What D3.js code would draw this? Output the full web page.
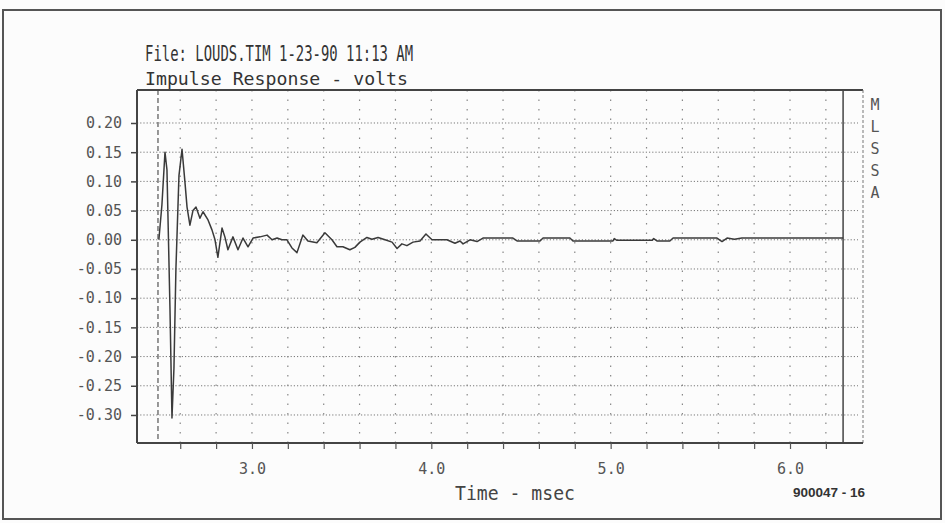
<!DOCTYPE html>
<html>
<head>
<meta charset="utf-8">
<script src="https://cdn.jsdelivr.net/npm/d3@7"></script>
<style>
  body { margin: 0; background: #fcfcfc; }
  svg { display: block; }
  text { font-family: "DejaVu Sans Mono", monospace; }
</style>
</head>
<body>
<div id="chart"></div>
<script>
// impulse response (time in msec, amplitude in volts)
var timeMs = [2.481, 2.498, 2.515, 2.526, 2.543, 2.554, 2.565, 2.576, 2.593, 2.610,
  2.626, 2.638, 2.654, 2.671, 2.688, 2.710, 2.727, 2.755, 2.777, 2.794,
  2.810, 2.833, 2.849, 2.866, 2.894, 2.922, 2.950, 2.978, 3.006, 3.045,
  3.084, 3.112, 3.140, 3.167, 3.195, 3.223, 3.251, 3.284, 3.312, 3.362,
  3.407, 3.446, 3.474, 3.507, 3.546, 3.574, 3.602, 3.641, 3.669, 3.703,
  3.742, 3.781, 3.809, 3.836, 3.864, 3.898, 3.937, 3.970, 4.004, 4.037,
  4.087, 4.132, 4.160, 4.177, 4.216, 4.255, 4.288, 4.455, 4.478, 4.606,
  4.623, 4.773, 4.790, 5.013, 5.020, 5.035, 5.231, 5.240, 5.258, 5.330,
  5.348, 5.593, 5.621, 5.649, 5.690, 5.732, 6.296];
var volts = [0.000, 0.060, 0.150, 0.120, -0.120, -0.305, -0.220, -0.050, 0.110, 0.155,
  0.100, 0.056, 0.025, 0.050, 0.056, 0.037, 0.048, 0.034, 0.017, 0.000,
  -0.030, 0.020, 0.005, -0.017, 0.005, -0.017, 0.003, -0.012, 0.003, 0.005,
  0.008, 0.000, 0.003, 0.000, 0.000, -0.014, -0.022, 0.008, -0.002, -0.005,
  0.012, 0.000, -0.012, -0.012, -0.017, -0.013, -0.004, 0.004, 0.001, 0.004,
  0.000, -0.004, -0.015, -0.007, -0.010, -0.004, -0.002, 0.010, 0.000, 0.000,
  0.000, -0.006, -0.002, -0.007, 0.000, -0.003, 0.003, 0.003, -0.002, -0.002,
  0.003, 0.003, -0.002, -0.002, 0.002, -0.001, -0.001, 0.002, -0.002, -0.002,
  0.003, 0.003, -0.003, 0.003, 0.001, 0.003, 0.003];

var yTicks = [0.20, 0.15, 0.10, 0.05, 0.00, -0.05, -0.10, -0.15, -0.20, -0.25, -0.30];
var xTicks = [2.6, 2.8, 3.0, 3.2, 3.4, 3.6, 3.8, 4.0, 4.2, 4.4, 4.6, 4.8, 5.0, 5.2, 5.4, 5.6, 5.8, 6.0, 6.2];
var xLabels = [3.0, 4.0, 5.0, 6.0];
var cursors = [2.476, 6.296];
var sideLetters = ["M", "L", "S", "S", "A"];

var W = 945, H = 523;
var plotL = 137, plotR = 863, plotT = 90, plotB = 443;

var svg = d3.select('#chart').append('svg')
    .attr('width', W)
    .attr('height', H);

// outer frame
svg.append('rect')
    .attr('x', 3).attr('y', 10)
    .attr('width', 938).attr('height', 509)
    .attr('fill', 'none')
    .attr('stroke', '#555')
    .attr('stroke-width', 2);

var x = d3.scaleLinear().domain([2.359, 6.407]).range([plotL, plotR]);
var y = d3.scaleLinear().domain([-0.348, 0.2565]).range([plotB, plotT]);

// horizontal dotted grid
svg.append('g').selectAll('line')
    .data(yTicks)
    .join('line')
    .attr('x1', plotL).attr('x2', plotR - 5)
    .attr('y1', d => y(d)).attr('y2', d => y(d))
    .attr('stroke', '#777')
    .attr('stroke-width', 1)
    .attr('stroke-dasharray', '1.2,2');

// vertical sparse dotted grid
svg.append('g').selectAll('line')
    .data(xTicks)
    .join('line')
    .attr('x1', d => x(d)).attr('x2', d => x(d))
    .attr('y1', plotT).attr('y2', plotB)
    .attr('stroke', '#888')
    .attr('stroke-width', 1.2)
    .attr('stroke-dasharray', '1.5,8');

// cursors: dashed start, solid end
svg.append('line')
    .attr('x1', x(cursors[0])).attr('x2', x(cursors[0]))
    .attr('y1', plotT).attr('y2', plotB)
    .attr('stroke', '#555')
    .attr('stroke-width', 1.2)
    .attr('stroke-dasharray', '5,3');
svg.append('line')
    .attr('x1', x(cursors[1])).attr('x2', x(cursors[1]))
    .attr('y1', plotT).attr('y2', plotB)
    .attr('stroke', '#444')
    .attr('stroke-width', 1.5);

// plot box
svg.append('line').attr('x1', plotL).attr('x2', plotR).attr('y1', plotT).attr('y2', plotT)
    .attr('stroke', '#444').attr('stroke-width', 2);
svg.append('line').attr('x1', plotR).attr('x2', plotR).attr('y1', plotT).attr('y2', plotB)
    .attr('stroke', '#777').attr('stroke-width', 1).attr('stroke-dasharray', '3,2');

// axes
var yAxis = d3.axisLeft(y)
    .tickValues(yTicks)
    .tickSize(6)
    .tickPadding(9)
    .tickFormat(d => d.toFixed(2));
var gy = svg.append('g')
    .attr('transform', 'translate(' + plotL + ',0)')
    .call(yAxis);
gy.select('.domain').attr('d', 'M0,' + plotT + 'V' + plotB).attr('stroke', '#444').attr('stroke-width', 2);
gy.selectAll('.tick line').attr('stroke', '#444').attr('stroke-width', 1.5);
gy.selectAll('.tick text')
    .attr('font-family', '"DejaVu Sans Mono", monospace')
    .attr('font-size', 15)
    .attr('fill', '#555');

var xAxis = d3.axisBottom(x)
    .tickValues(xTicks)
    .tickSize(6)
    .tickPadding(14)
    .tickFormat(d => xLabels.indexOf(d) >= 0 ? d.toFixed(1) : '');
var gx = svg.append('g')
    .attr('transform', 'translate(0,' + plotB + ')')
    .call(xAxis);
gx.select('.domain').attr('d', 'M' + plotL + ',0H' + plotR).attr('stroke', '#444').attr('stroke-width', 2);
gx.selectAll('.tick line').attr('stroke', '#555').attr('stroke-width', 1.2);
gx.selectAll('.tick text')
    .attr('font-family', '"DejaVu Sans Mono", monospace')
    .attr('font-size', 15)
    .attr('fill', '#555');

// impulse trace
var pts = timeMs.map((t, i) => [t, volts[i]]);
var line = d3.line().x(d => x(d[0])).y(d => y(d[1]));
svg.append('path')
    .datum(pts)
    .attr('d', line)
    .attr('fill', 'none')
    .attr('stroke', '#3a3a3a')
    .attr('stroke-width', 1.5)
    .attr('stroke-linejoin', 'round');

// titles
svg.append('text')
    .attr('x', 145).attr('y', 61)
    .attr('font-size', 22)
    .attr('textLength', 268)
    .attr('lengthAdjust', 'spacingAndGlyphs')
    .attr('fill', '#333')
    .text('File: LOUDS.TIM 1-23-90 11:13 AM');
svg.append('text')
    .attr('x', 145).attr('y', 85)
    .attr('font-size', 18)
    .attr('textLength', 263)
    .attr('lengthAdjust', 'spacingAndGlyphs')
    .attr('fill', '#333')
    .text('Impulse Response - volts');

svg.append('text')
    .attr('x', 455).attr('y', 500)
    .attr('font-size', 19)
    .attr('textLength', 120)
    .attr('lengthAdjust', 'spacingAndGlyphs')
    .attr('fill', '#444')
    .text('Time - msec');

svg.append('text')
    .attr('x', 865).attr('y', 497)
    .attr('text-anchor', 'end')
    .style('font-family', '"Liberation Sans", Arial, sans-serif')
    .attr('font-size', 13.5)
    .attr('font-weight', 'bold')
    .attr('fill', '#333')
    .text('900047 - 16');

// MLSSA vertical tag
svg.append('g').selectAll('text')
    .data(sideLetters)
    .join('text')
    .attr('x', 875)
    .attr('y', (d, i) => 110 + i * 22)
    .attr('text-anchor', 'middle')
    .attr('font-size', 15)
    .attr('fill', '#555')
    .text(d => d);
</script>
</body>
</html>
